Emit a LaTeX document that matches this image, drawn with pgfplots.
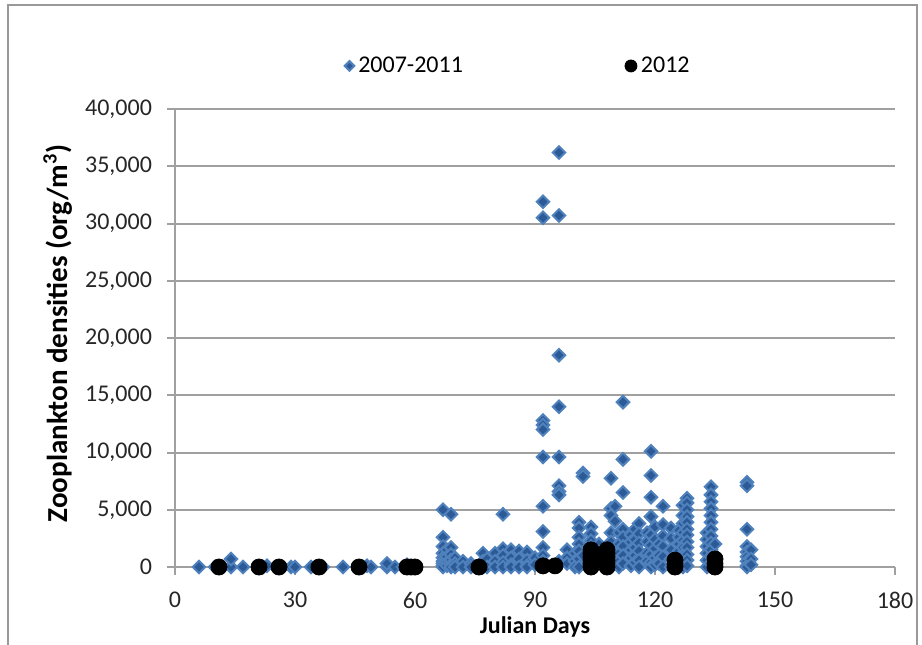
\documentclass[border=0pt]{standalone}
\usepackage{fontspec}
\setmainfont{Carlito}
\usepackage{pgfplots}
\pgfplotsset{compat=1.18}
\definecolor{serfill}{RGB}{44,90,150}
\definecolor{seredge}{RGB}{79,129,189}
\definecolor{gridc}{RGB}{160,160,160}
\begin{document}
\begin{tikzpicture}[x=1pt,y=1pt]
\useasboundingbox (0,0) rectangle (461,322);
\draw[gray!80, line width=1pt] (4,-10) rectangle (458.5,319.5);
\begin{axis}[
  at={(87.5pt,38.5pt)}, anchor=south west,
  scale only axis, width=360pt, height=229pt,
  xmin=0, xmax=180, ymin=0, ymax=40000,
  xtick={0,30,...,180}, ytick={0,5000,...,40000},
  axis x line=bottom, axis y line=left,
  axis line style={-, draw=gridc, line width=1pt},
  tick align=outside, major tick length=4pt,
  tick style={draw=gridc, line width=1pt},
  ymajorgrids, major grid style={draw=gridc, line width=1pt},
  /pgf/number format/assume math mode=true,
  /pgf/number format/.cd, 1000 sep={,}, /pgfplots/.cd,
  scaled y ticks=false,
  ticklabel style={font=\fontsize{12}{14}\selectfont, text=black!85},
  xticklabel style={yshift=-5pt},
  yticklabel style={xshift=-4pt},
  ylabel={\textbf{Zooplankton densities (org/m\textsuperscript{3})}},
  ylabel style={at={(axis description cs:-0.163,0.51)}, anchor=center, font=\fontsize{14.5}{16}\selectfont},
  xlabel={\textbf{Julian Days}},
  xlabel style={at={(axis description cs:0.5,-0.131)}, anchor=center, font=\fontsize{12}{14}\selectfont},
  legend style={at={(axis description cs:0.478,1.094)}, anchor=center, draw=none, fill=none,
    font=\fontsize{12}{14}\selectfont, legend columns=2,
    /tikz/every even column/.append style={column sep=79pt}},
  clip=false,
]
\addplot[only marks, mark=square*, mark size=2.2pt,
  mark options={rotate=45, fill=serfill, draw=seredge, line width=1pt},
  legend image post style={mark size=1.7pt}]
coordinates {
(6,0)(10,0)(14,0)(14,700)(17,0)(22,0)(23,100)(29,0)(30,0)(34,0)(37,0)(42,0)(47,0)(48,100)(49,0)(53,0)(53,300)(55,0)(57,0)(58,200)
(67,5000)(67,2600)(67,1800)(67,1200)(67,800)(67,500)(67,300)(67,100)(67,0)
(68,1500)(68,900)(68,400)(68,100)
(69,4600)(69,1700)(69,1100)(69,600)(69,200)(69,0)
(70,800)(70,300)(70,0)
(72,500)(72,0)(74,300)(74,0)
(77,1200)(77,500)(77,100)(77,0)(78,700)(78,0)
(80,1200)(80,500)(80,0)
(82,4600)(82,1600)(82,1000)(82,400)(82,0)
(84,1500)(84,800)(84,200)(84,0)
(86,1400)(86,700)(86,0)
(88,1300)(88,600)(88,100)(88,0)
(90,800)(90,200)
(92,31900)(92,30500)(92,12800)(92,12400)(92,12000)(92,9600)(92,5300)(92,3100)(92,1700)(92,1000)(92,500)(92,0)
(96,36200)(96,30700)(96,18500)(96,14000)(96,9600)(96,7100)(96,6600)(96,6300)(96,500)
(98,1500)(98,800)(98,300)
(100,1200)(100,500)(100,0)
(101,3900)(101,3400)(101,2600)(101,2000)(101,1400)(101,700)(101,0)
(102,8200)(102,7900)(102,1000)
(104,3500)(104,2900)(104,2300)(104,1800)(104,1200)(104,600)(104,0)
(106,2000)(106,1300)(106,600)
(108,1100)(108,400)
(109,7750)(109,5100)(109,4500)(109,3000)(109,2200)(109,1500)(109,800)(109,0)
(110,5300)(110,4000)
(111,3000)(111,2000)(111,1200)(111,500)(111,0)
(112,14400)(112,9400)(112,6500)(112,3300)(112,2600)(112,1800)(112,1000)(112,300)
(114,2800)(114,2200)(114,1500)(114,800)(114,100)
(115,3300)(115,2400)(115,1700)(115,1000)(115,400)
(116,3800)(116,2900)(116,2100)(116,1400)(116,600)(116,0)
(118,3000)(118,2200)(118,1200)(118,500)
(119,10100)(119,8000)(119,6100)(119,4400)(119,2800)(119,1900)(119,1100)(119,400)(119,0)
(120,3500)(120,2400)(120,1600)(120,800)(120,200)
(121,2000)(121,1000)(121,300)
(122,5300)(122,3700)(122,2700)(122,1800)(122,900)(122,0)
(124,3400)(124,2500)(124,1500)(124,700)(124,0)
(126,3200)(126,2600)(126,2000)(126,1400)(126,800)(126,300)(126,0)
(127,5400)(127,4500)(127,3800)(127,3000)(127,2300)(127,1700)(127,1000)(127,400)(127,0)
(128,6000)(128,5600)(128,5000)(128,4400)(128,3900)(128,3300)(128,2800)(128,2200)(128,1700)(128,1100)(128,600)(128,100)
(133,3000)(133,2400)(133,1800)(133,1200)(133,600)(133,0)
(134,7000)(134,6300)(134,5700)(134,5100)(134,4500)(134,3900)(134,3300)(134,2700)(134,2100)(134,1500)(134,900)(134,300)
(135,2000)(135,1000)
(143,7400)(143,7100)(143,3300)(143,1800)(143,1300)(143,900)(143,500)(143,100)(143,0)
(144,1500)(144,700)(144,200)
};
\addlegendentry{2007-2011}
\addplot[only marks, mark=*, mark size=4pt, mark options={fill=black, draw=black},
  legend image post style={mark size=3pt}]
coordinates {
(11,0)(21,0)(26,0)(36,0)(46,0)(58,0)(59,0)(60,0)(76,0)(92,100)(95,100)
(104,0)(104,300)(104,600)(104,900)(104,1200)(104,1500)
(108,0)(108,300)(108,600)(108,900)(108,1200)(108,1500)
(125,0)(125,300)(125,600)
(135,0)(135,300)(135,700)
};
\addlegendentry{2012}
\end{axis}
\end{tikzpicture}
\end{document}
